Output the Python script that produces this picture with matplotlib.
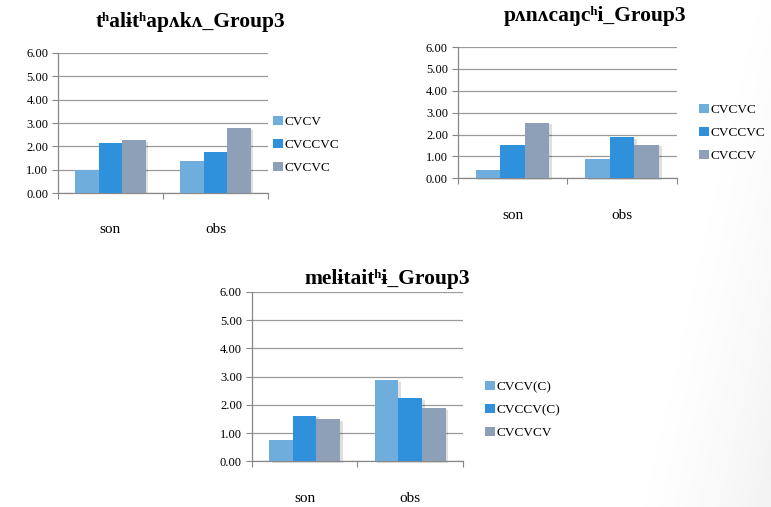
import matplotlib.pyplot as plt
import numpy as np

plt.rcParams['font.family'] = ['Liberation Serif', 'DejaVu Serif']

categories = ['son', 'obs']

title1 = 'tʰalɨtʰapʌkʌ_Group3'
labels1 = ['CVCV', 'CVCCVC', 'CVCVC']
vals1 = [[1.00, 1.37], [2.13, 1.75], [2.25, 2.77]]

title2 = 'pʌnʌcaŋcʰi_Group3'
labels2 = ['CVCVC', 'CVCCVC', 'CVCCV']
vals2 = [[0.37, 0.88], [1.52, 1.87], [2.52, 1.52]]

title3 = 'melɨtaitʰɨ_Group3'
labels3 = ['CVCV(C)', 'CVCCV(C)', 'CVCVCV']
vals3 = [[0.75, 2.87], [1.62, 2.25], [1.50, 1.88]]

colors = ['#6FAEDC', '#2F90DC', '#8E9FB8']

fig = plt.figure(figsize=(7.71, 5.07), dpi=100)

# subtle grey shade on the right edge, like the slide background
bg = fig.add_axes([0, 0, 1, 1], zorder=-10)
xx = np.linspace(0, 1, 400)
yy = np.linspace(0, 1, 260)
X, Y = np.meshgrid(xx, yy)
shade = np.clip((X - 0.80 - 0.15 * (1 - Y)) / 0.2, 0, 1) ** 1.5 * 0.05
bg.imshow(1 - shade, cmap='gray', vmin=0, vmax=1, extent=[0, 1, 0, 1],
          aspect='auto', origin='upper')
bg.axis('off')


def draw(rect, title, labels, vals, title_xy, cat_y, leg_xy):
    ax = fig.add_axes(rect)
    x = np.arange(len(categories)) + 0.5
    w = 0.224
    for i, (lab, v) in enumerate(zip(labels, vals)):
        pos = x + (i - 1) * w
        # soft shadow
        ax.bar(pos + 0.025, v, w, bottom=-0.06, color='#000000', alpha=0.12,
               zorder=2, clip_on=False)
        ax.bar(pos, v, w, color=colors[i], label=lab, zorder=3)
    ax.set_xlim(0, 2)
    ax.set_ylim(0, 6)
    ax.set_yticks(np.arange(0, 7, 1))
    ax.set_yticklabels(['%.2f' % t for t in np.arange(0, 7, 1)], fontsize=9)
    ax.set_xticks([0, 1, 2])
    ax.set_xticklabels([])
    ax.tick_params(axis='x', length=4, color='#888888', direction='out')
    ax.tick_params(axis='y', length=4, color='#888888', direction='out', pad=3)
    ax.grid(axis='y', color='#9A9A9A', linewidth=0.9, zorder=0)
    ax.set_axisbelow(True)
    for s in ['top', 'right']:
        ax.spines[s].set_visible(False)
    for s in ['left', 'bottom']:
        ax.spines[s].set_color('#888888')
        ax.spines[s].set_linewidth(0.9)
    for xi, c in zip(x, categories):
        ax.text(xi, cat_y, c, transform=ax.get_xaxis_transform(),
                ha='center', va='center', fontsize=11)
    fig.text(title_xy[0], title_xy[1], title, ha='center', va='center',
             fontsize=15.5, fontweight='bold')
    ax.legend(loc='center left', bbox_to_anchor=leg_xy,
              bbox_transform=fig.transFigure, frameon=False, fontsize=9.5,
              handlelength=0.75, handleheight=0.75, handletextpad=0.15,
              labelspacing=0.8, borderaxespad=0, borderpad=0)
    return ax


draw([58 / 771, 1 - 193 / 507, 210 / 771, 140 / 507], title1, labels1, vals1,
     (190 / 771, 1 - 22 / 507), -0.26, (273 / 771, 1 - 145 / 507))
draw([457.7 / 771, 1 - 178.3 / 507, 219.3 / 771, 131.3 / 507], title2, labels2,
     vals2, (595 / 771, 1 - 16 / 507), -0.28, (699 / 771, 1 - 133 / 507))
draw([251.7 / 771, 1 - 461.3 / 507, 211.3 / 771, 169.3 / 507], title3, labels3,
     vals3, (387 / 771, 1 - 279 / 507), -0.22, (485 / 771, 1 - 410 / 507))

fig.savefig('out.png', dpi=100)
